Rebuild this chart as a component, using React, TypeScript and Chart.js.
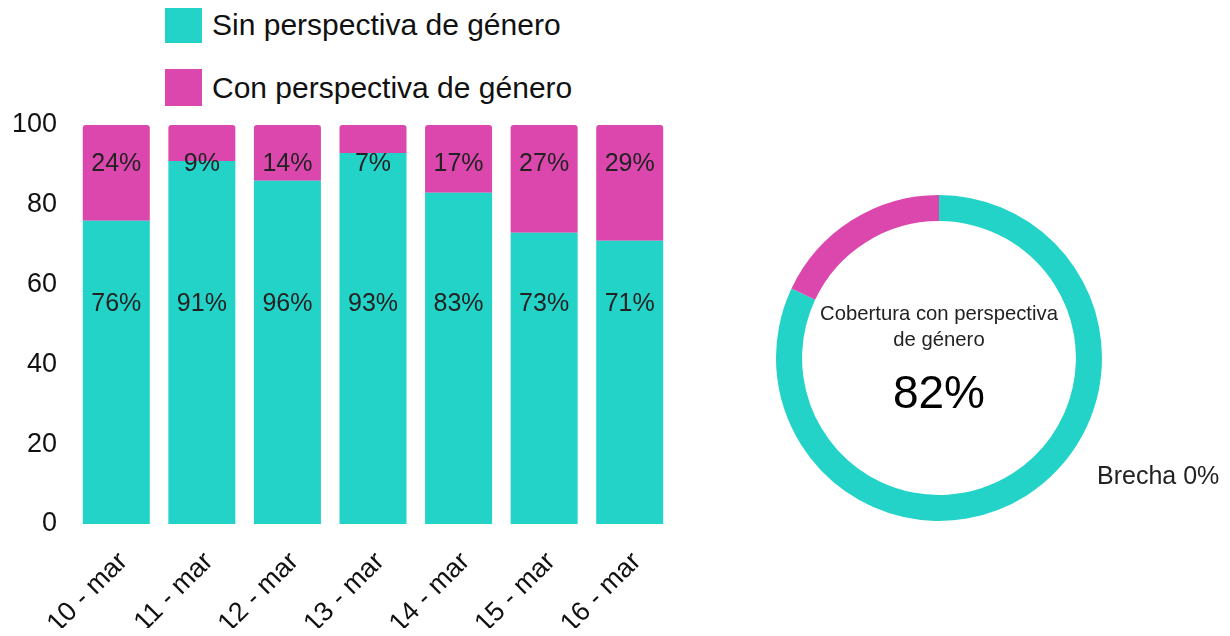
import React, { useEffect, useRef } from 'react';
import { Chart, registerables } from 'chart.js';

Chart.register(...registerables);

const categories = ['10 - mar', '11 - mar', '12 - mar', '13 - mar', '14 - mar', '15 - mar', '16 - mar'];
const sinValues = [76, 91, 86, 93, 83, 73, 71];
const conValues = [24, 9, 14, 7, 17, 27, 29];
const sinLabels = ['76%', '91%', '96%', '93%', '83%', '73%', '71%'];
const conLabels = ['24%', '9%', '14%', '7%', '17%', '27%', '29%'];
const seriesNames = ['Sin perspectiva de género', 'Con perspectiva de género'];
const coverageValues = [82, 18];
const centerTitleLines = ['Cobertura con perspectiva', 'de género'];
const centerValue = '82%';
const gapText = 'Brecha 0%';

const TEAL = '#23D3C8';
const PINK = '#DB47AD';
const FONT = '"Liberation Sans", Arial, sans-serif';
const seriesColors = [TEAL, PINK];

const barLabelPlugin = {
  id: 'barLabels',
  afterDatasetsDraw(chart: any, _args: any, opts: any) {
    const ctx = chart.ctx;
    const yScale = chart.scales.y;
    ctx.save();
    ctx.font = `25px ${FONT}`;
    ctx.fillStyle = '#222';
    ctx.textAlign = 'center';
    ctx.textBaseline = 'middle';
    chart.data.datasets.forEach((ds: any, di: number) => {
      const meta = chart.getDatasetMeta(di);
      const y = yScale.getPixelForValue(opts.levels[di]);
      meta.data.forEach((bar: any, i: number) => {
        ctx.fillText(ds.valueLabels[i], bar.x, y);
      });
    });
    ctx.restore();
  },
};

function BarChart() {
  const ref = useRef<HTMLCanvasElement>(null);
  useEffect(() => {
    if (!ref.current) return;
    const chart = new Chart(ref.current, {
      type: 'bar',
      data: {
        labels: categories,
        datasets: [
          {
            label: seriesNames[0],
            data: sinValues,
            backgroundColor: TEAL,
            borderWidth: 0,
            borderRadius: 3,
            borderSkipped: 'start',
            barPercentage: 0.783,
            categoryPercentage: 1,
            valueLabels: sinLabels,
          } as any,
          {
            label: seriesNames[1],
            data: conValues,
            backgroundColor: PINK,
            borderWidth: 0,
            borderRadius: 3,
            borderSkipped: 'start',
            barPercentage: 0.783,
            categoryPercentage: 1,
            valueLabels: conLabels,
          } as any,
        ],
      },
      options: {
        responsive: true,
        maintainAspectRatio: false,
        animation: false,
        layout: { padding: { top: 117, right: 15.5, left: 0, bottom: 0 } },
        plugins: {
          legend: { display: false },
          tooltip: { enabled: false },
          barLabels: { levels: [55.1, 90.2] },
        } as any,
        scales: {
          x: {
            stacked: true,
            grid: { display: false, drawTicks: false },
            border: { display: false },
            ticks: {
              maxRotation: 45,
              minRotation: 45,
              color: '#111',
              font: { size: 27, family: FONT },
              padding: 22,
              labelOffset: 7,
            },
            afterFit(scale: any) {
              scale.height = 104;
            },
          },
          y: {
            stacked: true,
            min: 0,
            max: 100,
            grid: { display: false, drawTicks: false },
            border: { display: false },
            ticks: {
              stepSize: 20,
              color: '#111',
              font: { size: 27, family: FONT },
              padding: 16.5,
            },
            afterFit(scale: any) {
              scale.width = 65.5;
            },
          },
        },
      },
      plugins: [barLabelPlugin],
    });
    return () => chart.destroy();
  }, []);
  return <canvas ref={ref} />;
}

function DonutChart() {
  const ref = useRef<HTMLCanvasElement>(null);
  useEffect(() => {
    if (!ref.current) return;
    const chart = new Chart(ref.current, {
      type: 'doughnut',
      data: {
        labels: seriesNames.slice().reverse(),
        datasets: [
          {
            data: coverageValues,
            backgroundColor: [TEAL, PINK],
            borderWidth: 0,
          },
        ],
      },
      options: {
        responsive: true,
        maintainAspectRatio: false,
        animation: false,
        cutout: '84%',
        layout: { padding: 0 },
        plugins: { legend: { display: false }, tooltip: { enabled: false } },
      },
    });
    return () => chart.destroy();
  }, []);
  return <canvas ref={ref} />;
}

export default function App() {
  return (
    <div style={{ position: 'relative', width: 1214, height: 620, fontFamily: FONT, color: '#111' }}>
      <div style={{ position: 'absolute', left: 157, top: -2 }}>
        {seriesNames.map((name, i) => (
          <div key={name} style={{ display: 'flex', alignItems: 'center', height: 37, marginBottom: i === 0 ? 26 : 0 }}>
            <div style={{ width: 37, height: 37, background: seriesColors[i], marginRight: 10 }} />
            <span style={{ fontSize: 30, whiteSpace: 'nowrap', lineHeight: '37px' }}>{name}</span>
          </div>
        ))}
      </div>
      <div style={{ position: 'absolute', left: 0, top: 0, width: 680, height: 620 }}>
        <BarChart />
      </div>
      <div style={{ position: 'absolute', left: 768, top: 187, width: 326, height: 326 }}>
        <DonutChart />
      </div>
      <div style={{ position: 'absolute', left: 771, top: 112, width: 320, textAlign: 'center', fontSize: 20.3, lineHeight: '26px', color: '#222' }}>
        <div style={{ position: 'absolute', top: 180, width: 320 }}>
          {centerTitleLines.map((l) => (
            <div key={l}>{l}</div>
          ))}
        </div>
        <div style={{ position: 'absolute', top: 244, width: 320, fontSize: 46, lineHeight: '56px', color: '#000' }}>{centerValue}</div>
      </div>
      <div style={{ position: 'absolute', left: 1089, top: 453, fontSize: 25, lineHeight: '28px', whiteSpace: 'nowrap', color: '#222' }}>{gapText}</div>
    </div>
  );
}
